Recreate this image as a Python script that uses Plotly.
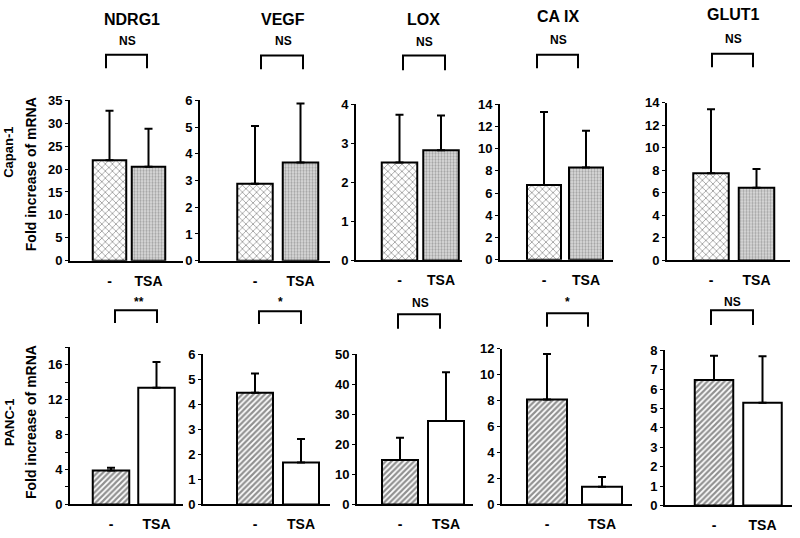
import plotly.graph_objects as go

W, H = 800, 538

# data
genes = ["NDRG1", "VEGF", "LOX", "CA IX", "GLUT1"]
groups = ["-", "TSA"]

capan_mean = [[21.9, 20.5], [2.88, 3.67], [2.51, 2.82], [6.73, 8.31], [7.73, 6.44]]
capan_sd = [[10.8, 8.3], [2.16, 2.21], [1.22, 0.89], [6.57, 3.29], [5.67, 1.66]]
panc_mean = [[3.89, 13.37], [4.46, 1.68], [14.8, 27.8], [8.1, 1.37], [6.48, 5.3]]
panc_sd = [[0.3, 2.93], [0.77, 0.94], [7.4, 16.2], [3.5, 0.75], [1.25, 2.4]]

capan_sig = ["NS", "NS", "NS", "NS", "NS"]
panc_sig = ["**", "*", "NS", "*", "NS"]

capan_ymax = [35, 6, 4, 14, 14]
capan_dtick = [5, 1, 1, 2, 2]
panc_ymax = [18, 6, 50, 12, 8]
panc_dtick = [4, 1, 10, 2, 1]

# layout geometry in pixels: axis left, axis right, bar centers, bar width, y top, y zero
capan_geo = [
    (70, 183, 109.5, 148.5, 33.5, 96, 261),
    (200, 330, 255, 300.5, 35.5, 96, 261),
    (356, 462, 399.5, 441, 35.5, 100, 260.7),
    (500, 613, 544, 586, 34, 100, 260),
    (667, 790, 711, 756.5, 35.5, 98.3, 260.7),
]
panc_geo = [
    (70, 183, 111, 156.5, 36.5, 350, 511.7),
    (203, 330, 255, 301, 36, 357.3, 511.7),
    (357, 473, 400, 446, 36, 357.3, 511.7),
    (502, 632, 547, 602, 40, 351.7, 511.7),
    (665, 792, 714, 762.5, 38.5, 353.3, 512.7),
]
# bracket: x0, x1, ytop, ybottom, label x, label y
capan_br = [(106, 147, 49, 63, 127, 35), (261, 303, 50, 64, 283, 35), (403, 445, 50, 65, 424, 36),
            (537, 578, 49, 63, 558, 34), (712, 753, 48, 62, 733, 33)]
panc_br = [(115, 157, 312, 325, 139, 303), (259, 301, 313, 326, 280, 303), (398, 440, 316, 331, 420, 304),
           (547, 588, 315, 329, 567, 303), (711, 753, 312, 327, 732, 303)]
title_pos = [(132, 13), (283, 13), (423, 13), (558, 10), (733, 8)]

FONT = "Liberation Sans, Arial, sans-serif"


def px(x):
    return x / W


def py(y):
    return 1 - y / H


patterns = {
    "capan": [dict(shape="x", fgcolor="#333333", bgcolor="white", size=5, solidity=0.3),
              dict(shape=".", fgcolor="#666666", bgcolor="#dedede", size=3, solidity=0.45)],
    "panc": [dict(shape="/", fgcolor="#222222", bgcolor="white", size=4, solidity=0.55),
             None],
}

fig = go.Figure()
shapes = []
annotations = []

rows = [("capan", capan_mean, capan_sd, capan_ymax, capan_dtick, capan_geo, capan_br, capan_sig),
        ("panc", panc_mean, panc_sd, panc_ymax, panc_dtick, panc_geo, panc_br, panc_sig)]

k = 0
for key, means, sds, ymaxs, dticks, geos, brs, sigs in rows:
    for i in range(5):
        k += 1
        xa = "x" if k == 1 else f"x{k}"
        ya = "y" if k == 1 else f"y{k}"
        L, R, c1, c2, bw, ytop, y0 = geos[i]
        s = c2 - c1
        for j in range(2):
            pat = patterns[key][j]
            marker = dict(color="white", line=dict(color="black", width=2))
            if pat is not None:
                marker["pattern"] = pat
            fig.add_trace(go.Bar(
                x=[groups[j]], y=[means[i][j]],
                xaxis=xa, yaxis=ya,
                width=bw / s,
                marker=marker,
                error_y=dict(type="data", symmetric=False, array=[sds[i][j]], arrayminus=[0],
                             color="black", thickness=2, width=4),
                showlegend=False, hoverinfo="skip",
            ))
        xkey = "xaxis" if k == 1 else f"xaxis{k}"
        ykey = "yaxis" if k == 1 else f"yaxis{k}"
        fig.layout[xkey] = dict(
            domain=[px(L), px(R)], anchor=ya, type="category",
            categoryorder="array", categoryarray=groups,
            range=[(L - c1) / s, (R - c1) / s],
            showline=True, linecolor="black", linewidth=2,
            ticks="outside", ticklen=6, tickcolor="rgba(0,0,0,0)",
            showgrid=False, zeroline=False,
            tickfont=dict(family=FONT, size=14, color="black", weight="bold"),
        )
        ydict = dict(
            domain=[py(y0), py(ytop)], anchor=xa,
            range=[0, ymaxs[i]], dtick=dticks[i], tick0=0,
            showline=True, linecolor="black", linewidth=2,
            ticks="outside", ticklen=3, tickwidth=1, tickcolor="black",
            showgrid=False, zeroline=False,
            tickfont=dict(family=FONT, size=13, color="black", weight="bold"),
        )
        if key == "panc" and i == 0:
            ydict["minor"] = dict(dtick=2, ticks="outside", ticklen=3, tickcolor="black")
        fig.layout[ykey] = ydict

        bx0, bx1, bt, bb, lx, ly = brs[i]
        shapes.append(dict(
            type="path", xref="paper", yref="paper",
            path=f"M {px(bx0)},{py(bb)} L {px(bx0)},{py(bt)} L {px(bx1)},{py(bt)} L {px(bx1)},{py(bb)}",
            line=dict(color="black", width=2),
        ))
        annotations.append(dict(
            x=px(lx), y=py(ly), xref="paper", yref="paper", text=sigs[i], showarrow=False,
            font=dict(family=FONT, size=12, color="black", weight="bold"),
            xanchor="center", yanchor="middle",
        ))

for i in range(5):
    tx, ty = title_pos[i]
    annotations.append(dict(
        x=px(tx), y=py(ty), xref="paper", yref="paper", text=genes[i], showarrow=False,
        font=dict(family=FONT, size=16, color="black", weight="bold"),
        xanchor="center", yanchor="middle",
    ))

for label, cy in [("Capan-1", 150), ("PANC-1", 428)]:
    annotations.append(dict(
        x=px(9), y=py(cy), xref="paper", yref="paper", text=label, showarrow=False, textangle=-90,
        font=dict(family=FONT, size=13, color="black", weight="bold"),
        xanchor="center", yanchor="middle",
    ))
for cy in [172, 427]:
    annotations.append(dict(
        x=px(31), y=py(cy), xref="paper", yref="paper", text="Fold increase of mRNA", showarrow=False,
        textangle=-90,
        font=dict(family=FONT, size=14, color="black", weight="bold"),
        xanchor="center", yanchor="middle",
    ))

fig.update_layout(
    width=W, height=H,
    margin=dict(l=0, r=0, t=0, b=0),
    paper_bgcolor="white", plot_bgcolor="white",
    barmode="overlay",
    shapes=shapes, annotations=annotations,
)

# drop the browser's default 8px body margin so the figure sits at the page corner
fig.write_html("out.html", config={"displayModeBar": False},
               post_script="document.body.style.margin='0';")
